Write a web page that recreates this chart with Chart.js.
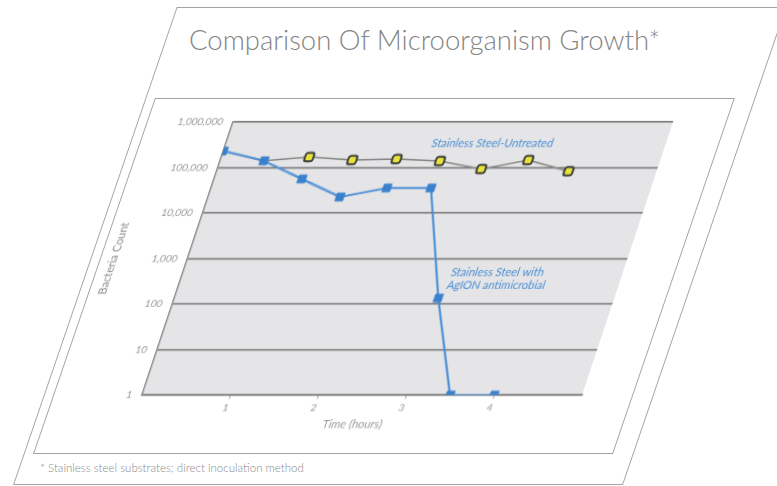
<!DOCTYPE html>
<html>
<head>
<meta charset="utf-8">
<script src="https://cdn.jsdelivr.net/npm/chart.js@4"></script>
<style>
  body { margin: 0; background: #fff; width: 777px; height: 486px; overflow: hidden; position: relative; font-family: Lato, "Open Sans", sans-serif; }
  .frame { position: absolute; border: 1.5px solid #a4a4a4; transform-origin: 0 100%; transform: skewX(-18.9deg); box-sizing: border-box; }
  #outer { left: 13px; top: 7px; width: 610px; height: 478px; }
  #inner { left: 33px; top: 98px; width: 580px; height: 356px; }
  #title { position: absolute; left: 189px; top: 23px; font-size: 27.5px; font-weight: 300; color: #858585; }
  #note { position: absolute; left: 40px; top: 461px; font-size: 11.5px; font-weight: 300; color: #8a8a8a; }
  #plot { position: absolute; left: 30px; top: 105px; width: 600px; height: 335px; transform-origin: 0 290px; transform: skewX(-18.43deg); }
</style>
</head>
<body>
<div class="frame" id="outer"></div>
<div class="frame" id="inner"></div>
<div id="title">Comparison Of Microorganism Growth*</div>
<div id="note">* Stainless steel substrates; direct inoculation method</div>
<div id="plot"><canvas id="growthChart"></canvas></div>
<script>
// time in hours
const timeHours = [0, 0.5, 1, 1.5, 2, 2.5, 3, 3.5, 4];
const agionCounts = [230000, 140000, 56000, 22500, 35500, 35500, 135, 1, 1];
const untreatedCounts = [230000, 140000, 170000, 146000, 154000, 139000, 93000, 146000, 83000];

const xTickValues = [1, 2, 3, 4];
const xTickLabels = ['1', '2', '3', '4'];
const yTickValues = [1, 10, 100, 1000, 10000, 100000, 1000000];
const yTickLabels = ['1', '10', '100', '1,000', '10,000', '100,000', '1,000,000'];

const blue = '#3a80cc';

// grey plot background
const plotBackground = {
  id: 'plotBackground',
  beforeDraw(chart) {
    const { ctx, chartArea } = chart;
    ctx.save();
    ctx.fillStyle = '#e5e5e7';
    ctx.fillRect(chartArea.left, chartArea.top, chartArea.width, chartArea.height);
    ctx.restore();
  }
};

// series names written inside the plot
const seriesLabels = {
  id: 'seriesLabels',
  afterDatasetsDraw(chart) {
    const { ctx } = chart;
    const x = chart.scales.x, y = chart.scales.y;
    ctx.save();
    ctx.fillStyle = '#4a8ed6';
    ctx.font = '11px Lato, sans-serif';
    ctx.textBaseline = 'middle';
    ctx.textAlign = 'center';
    ctx.fillText('Stainless Steel-Untreated', x.getPixelForValue(3.03), y.getPixelForValue(346000));
    ctx.textAlign = 'left';
    ctx.fillText('Stainless Steel with', x.getPixelForValue(3.05), y.getPixelForValue(500));
    ctx.fillText('AgION antimicrobial', x.getPixelForValue(3.05), y.getPixelForValue(250));
    ctx.restore();
  }
};

new Chart(document.getElementById('growthChart').getContext('2d'), {
  type: 'line',
  data: {
    datasets: [{
      label: 'Stainless Steel with AgION antimicrobial',
      data: timeHours.map((t, i) => ({ x: t, y: agionCounts[i] })),
      borderColor: '#4a8ed6',
      borderWidth: 2,
      pointStyle: 'rect',
      pointRadius: 5.5,
      pointBackgroundColor: blue,
      pointBorderColor: blue,
      pointBorderWidth: 1,
      tension: 0
    }, {
      label: 'Stainless Steel-Untreated',
      data: timeHours.map((t, i) => ({ x: t, y: untreatedCounts[i] })),
      borderColor: '#858585',
      borderWidth: 1.5,
      pointStyle: 'rectRounded',
      // first two readings sit under the blue markers
      pointRadius: ctx => ctx.dataIndex < 2 ? 0 : 5,
      pointBackgroundColor: '#e6e43a',
      pointBorderColor: '#3c3c3c',
      pointBorderWidth: 2,
      tension: 0
    }]
  },
  options: {
    responsive: true,
    maintainAspectRatio: false,
    animation: false,
    layout: { padding: { left: 28, right: 48, top: 17, bottom: 9 } },
    scales: {
      x: {
        type: 'linear',
        min: 0,
        max: 5,
        afterBuildTicks: scale => { scale.ticks = xTickValues.map(v => ({ value: v })); },
        afterFit: scale => { scale.height = 36; },
        ticks: {
          callback: (v, i) => xTickLabels[i],
          color: '#999',
          font: { family: 'Lato', size: 10 },
          padding: 3,
          maxRotation: 0
        },
        grid: { drawOnChartArea: false, drawTicks: true, tickLength: 4, color: '#aaa' },
        border: { color: '#707070', width: 1.5 },
        title: { display: true, text: 'Time (hours)', color: '#999', font: { family: 'Lato', size: 11 }, padding: { top: 2, bottom: 0 } }
      },
      y: {
        type: 'logarithmic',
        min: 1,
        max: 1000000,
        afterBuildTicks: scale => { scale.ticks = yTickValues.map(v => ({ value: v })); },
        afterFit: scale => { scale.width = 84; },
        ticks: {
          callback: (v, i) => yTickLabels[i],
          color: '#999',
          font: { family: 'Lato', size: 10 },
          padding: 10
        },
        grid: { color: '#707070', lineWidth: 1.5, drawTicks: false },
        border: { color: '#8a8a8a', width: 1.5 },
        title: { display: true, text: 'Bacteria Count', color: '#8a8a8a', font: { family: 'Lato', size: 11 } }
      }
    },
    plugins: {
      legend: { display: false },
      tooltip: { enabled: false }
    }
  },
  plugins: [plotBackground, seriesLabels]
});
</script>
</body>
</html>
